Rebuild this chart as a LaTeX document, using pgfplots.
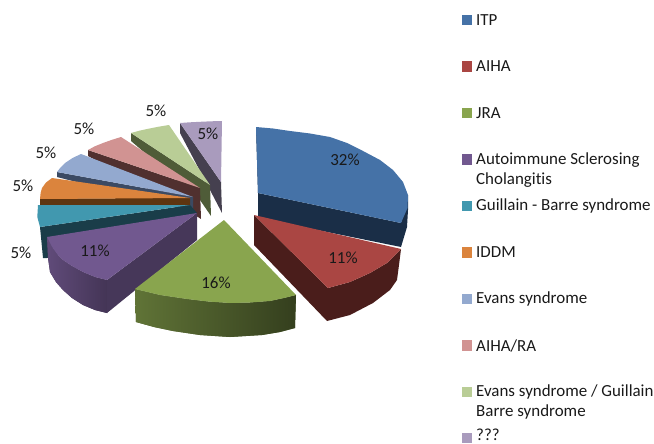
\documentclass[border=0pt]{standalone}
\usepackage{pgfplots}
\pgfplotsset{compat=1.18}
\usepackage{fontspec}
\setmainfont[Ligatures=NoCommon]{Carlito}
\definecolor{cA}{HTML}{4572A7}\definecolor{cAs}{HTML}{1A2E47}
\definecolor{cB}{HTML}{AA4643}\definecolor{cBs}{HTML}{4A1D1B}
\definecolor{cC}{HTML}{89A54E}
\definecolor{cD}{HTML}{71588F}
\definecolor{cE}{HTML}{4198AF}\definecolor{cEs}{HTML}{1A3D49}
\definecolor{cF}{HTML}{DB843D}\definecolor{cFs}{HTML}{5E3510}
\definecolor{cG}{HTML}{93A9CF}\definecolor{cGs}{HTML}{3B4A63}
\definecolor{cH}{HTML}{D19392}\definecolor{cHs}{HTML}{50302F}
\definecolor{cI}{HTML}{B9CD96}\definecolor{cIs}{HTML}{4F5C38}
\definecolor{cJ}{HTML}{A99BBD}\definecolor{cJs}{HTML}{45404F}
\pgfplotsset{
  w/.style={fill=#1,draw=none,forget plot,line width=0pt},
  k/.style={only marks,forget plot,mark=square*,mark size=4.7bp,color=#1,mark options={fill=#1,draw=#1,line width=0pt,solid}},
}
\tikzset{
  lab/.style={font=\fontsize{17}{17}\selectfont,text=black!90,inner sep=0pt,anchor=center},
  leg/.style={font=\fontsize{17}{17}\selectfont,text=black!90,inner sep=0pt,anchor=west},
}
\begin{document}
\begin{tikzpicture}
\begin{axis}[width=654bp,height=444bp,scale only axis,xmin=0,xmax=654,ymin=0,ymax=444,y dir=reverse,hide axis,clip=false]
\path (axis cs:0,0) rectangle (axis cs:654,444);
% lavender
\addplot[w=cJs] coordinates {(180,123)(221,182)(222,213)(210,190)(180,133)} -- cycle;
\addplot[w=cJ] coordinates {(180,123)(190,122.3)(200,121.8)(211,121.3)(222,121)(221,182)} -- cycle;
% light green
\addplot[w=cIs] coordinates {(131,133)(210,185)(211,216)(200,200)(131,141)} -- cycle;
\addplot[w=cI] coordinates {(131,133)(139,130.8)(147,129)(158,126.8)(169,125)(210,185)} -- cycle;
% pink
\addplot[w=cHs] coordinates {(88,150)(200,188)(201,219)(190,212)(88,156)} -- cycle;
\addplot[w=cH] coordinates {(88,150)(95,146.2)(103,143)(112,139.8)(121,137)(200,188)} -- cycle;
% light blue
\addplot[w=cGs] coordinates {(57,172)(193,197)(193,212)(57,177)} -- cycle;
\addplot[w=cG] coordinates {(57,172)(60.5,167.5)(65,163)(72.5,158)(81,154)(193,197)} -- cycle;
% orange
\addplot[w=cFs] coordinates {(40,198.5)(190,198)(190,205.5)(40,205.5)} -- cycle;
\addplot[w=cF] coordinates {(40,199)(40.6,193)(42,188)(46,182.5)(52,178)(190,198)} -- cycle;
% teal
\addplot[w=cEs] coordinates {(40,227)(190,205)(197,213)(47,258)(43,258)} -- cycle;
\addplot[w=cE] coordinates {(38,205)(190,205)(40,227)(37.3,217)} -- cycle;
% purple
\addplot[w=cD!65!black,shading=axis,left color=cD!85!black,right color=cD!60!black] coordinates {(47,237)(48,258)(50,272)(56,282)(63,290)(72,298)(83,305)(95,310)(107,313)(107,280)(95,277)(83,272)(72,266)(63,260)(57,254)(52,247)} -- cycle;
\addplot[w=cD!62!black] coordinates {(107,280)(197,213)(197,240)(107,313)} -- cycle;
\addplot[w=cD] coordinates {(197,213)(47,237)(52,247)(57,254)(63,260)(72,266)(83,272)(95,277)(107,280)} -- cycle;
% green
\addplot[w=cC!60!black,shading=axis,left color=cC!70!black,right color=cC!38!black] coordinates {(135,289)(136,322)(154,327)(173,331)(200,335)(230,337)(262,335)(280,332)(295,328)(296,295)(284,298)(270,301)(250,302.5)(230,303)(208,301.5)(187,299)(160,295)} -- cycle;
\addplot[w=cC] coordinates {(224,220)(135,289)(160,295)(187,299)(208,301.5)(230,303)(250,302.5)(270,301)(284,298)(296,295)} -- cycle;
% blue
\addplot[w=cAs] coordinates {(258,193)(401,223)(408,195)(408,210)(407,227)(401,247)(258,218)} -- cycle;
\addplot[w=cAs] coordinates {(256,127)(258,193)(260,190)(259,130)} -- cycle;
\addplot[w=cA] coordinates {(256,127)(273,128.5)(290,131)(310,133.5)(330,137)(347,143)(363,151)(380,160)(393,170)(403,182)(408,195)(407.5,208)(401,223)(258,193)} -- cycle;
% red
\addplot[w=cBs] coordinates {(254,215)(254,245)(327,321)(350,315)(373,303)(390,290)(397,280)(399,265)(401,249)(387,263)(370,273)(350,282)(328,288)} -- cycle;
\addplot[w=cB] coordinates {(254,215)(401,249)(387,263)(370,273)(350,282)(328,288)} -- cycle;
% legend keys
\addplot[k=cA] coordinates {(467,20)};
\addplot[k=cB] coordinates {(467,66.5)};
\addplot[k=cC] coordinates {(467,113)};
\addplot[k=cD] coordinates {(467,159.5)};
\addplot[k=cE] coordinates {(467,206)};
\addplot[k=cF] coordinates {(467,252.5)};
\addplot[k=cG] coordinates {(467,299)};
\addplot[k=cH] coordinates {(467,345.5)};
\addplot[k=cI] coordinates {(467,392)};
\addplot[k=cJ] coordinates {(467,438)};
% labels
\node[lab] at (axis cs:345,160) {32\%};
\node[lab] at (axis cs:343,258) {11\%};
\node[lab] at (axis cs:216,283) {16\%};
\node[lab] at (axis cs:95,251) {11\%};
\node[lab] at (axis cs:21,253) {5\%};
\node[lab] at (axis cs:23,186) {5\%};
\node[lab] at (axis cs:46,153) {5\%};
\node[lab] at (axis cs:84,129) {5\%};
\node[lab] at (axis cs:156,111) {5\%};
\node[lab] at (axis cs:208,134) {5\%};
\node[leg] at (axis cs:476,20) {ITP};
\node[leg] at (axis cs:476,66.5) {AIHA};
\node[leg] at (axis cs:476,113) {JRA};
\node[leg] at (axis cs:476,160) {Autoimmune Sclerosing};
\node[leg] at (axis cs:476,180) {Cholangitis};
\node[leg] at (axis cs:476,206) {Guillain - Barre syndrome};
\node[leg] at (axis cs:476,252.5) {IDDM};
\node[leg] at (axis cs:476,299) {Evans syndrome};
\node[leg] at (axis cs:476,345.5) {AIHA/RA};
\node[leg] at (axis cs:476,392) {Evans syndrome / Guillain};
\node[leg] at (axis cs:476,412) {Barre syndrome};
\node[leg] at (axis cs:476,435) {???};
\end{axis}
\end{tikzpicture}
\end{document}
